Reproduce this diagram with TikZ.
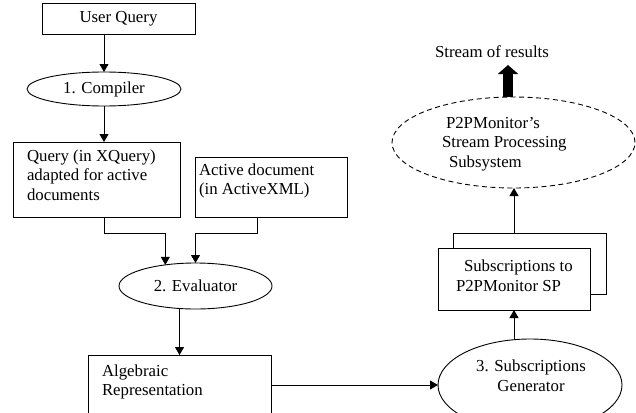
\documentclass[tikz,border=0pt]{standalone}
\usepackage{fontspec}
\setmainfont{Liberation Serif}
\usetikzlibrary{arrows.meta,shapes.geometric,calc}
\begin{document}
\begin{tikzpicture}[x=1pt,y=1pt,
  every node/.style={font=\fontsize{16.8pt}{19.5pt}\selectfont, inner sep=0pt, outer sep=0pt},
  boxn/.style={draw, line width=0.9pt, rectangle, anchor=north west, fill=white},
  ell/.style={draw, line width=0.9pt, ellipse},
  txt/.style={align=left, anchor=west},
  arr/.style={line width=0.9pt, -{Triangle[length=8pt,width=9pt]}}]
\useasboundingbox (0,0) rectangle (636,-412);
\clip (0,0) rectangle (636,-412);

\node[boxn, minimum width=153pt, minimum height=31pt] (uq) at (42,-3) {User Query};
\node[ell, minimum width=154pt, minimum height=34pt] (comp) at (104,-89) {1. Compiler};
\node[boxn, minimum width=167pt, minimum height=75pt] (q) at (13,-142) {};
\node[txt] (qt) at (27,-175) {Query (in XQuery)\\adapted for active\\documents};
\node[boxn, minimum width=152pt, minimum height=60pt] (ad) at (195,-157) {};
\node[txt] (adt) at (199,-181) {Active document\\(in ActiveXML)};
\node[ell, minimum width=153pt, minimum height=46pt] (ev) at (195.5,-286) {2. Evaluator};
\node[boxn, minimum width=183pt, minimum height=80pt] (alg) at (88,-355) {};
\node[txt] (algt) at (102,-382) {Algebraic\\Representation};
\node[ell, minimum width=184pt, minimum height=92pt] (sg) at (530,-385) {};
\node[align=center] (sgt) at (531,-375.5) {3. Subscriptions\\Generator};
\node[boxn, minimum width=153pt, minimum height=61pt] (sb) at (453,-233) {};
\node[boxn, minimum width=152pt, minimum height=62pt] (sf) at (438,-248) {};
\node[txt] (sft) at (456,-275.5) {\hspace*{8pt}Subscriptions to\\P2PMonitor SP};
\node[ell, dashed, dash pattern=on 5pt off 3.5pt, minimum width=243pt, minimum height=91pt] (sp) at (513.5,-142.5) {};
\node[txt] (spt) at (442,-144) {\hspace*{4pt}P2PMonitor’s\\Stream Processing\\\hspace*{7pt}Subsystem};
\node (res) at (492,-52) {Stream of results};

\draw[arr] (comp.north |- uq.south) -- (comp.north);
\draw[arr] (comp.south) -- (comp.south |- q.north);
\draw[arr] (comp.south |- q.south) -- ++(0,-16) -| (ev.145);
\draw[arr] ([xshift=-14pt]ad.south) -- ++(0,-16) -| (ev.north);
\draw[arr] (alg.north |- ev.south) -- (alg.north);
\draw[arr] (sg.west -| alg.east) -- (sg.west);
\draw[arr] (sf.south |- sg.north) -- (sf.south);
\draw[arr] (sf.north |- sb.north) -- (sf.north |- sp.south);
\draw[line width=10pt, -{Triangle[length=9pt,width=20pt]}] ([xshift=-5.5pt]sp.north) -- ++(0,32);
\end{tikzpicture}
\end{document}
